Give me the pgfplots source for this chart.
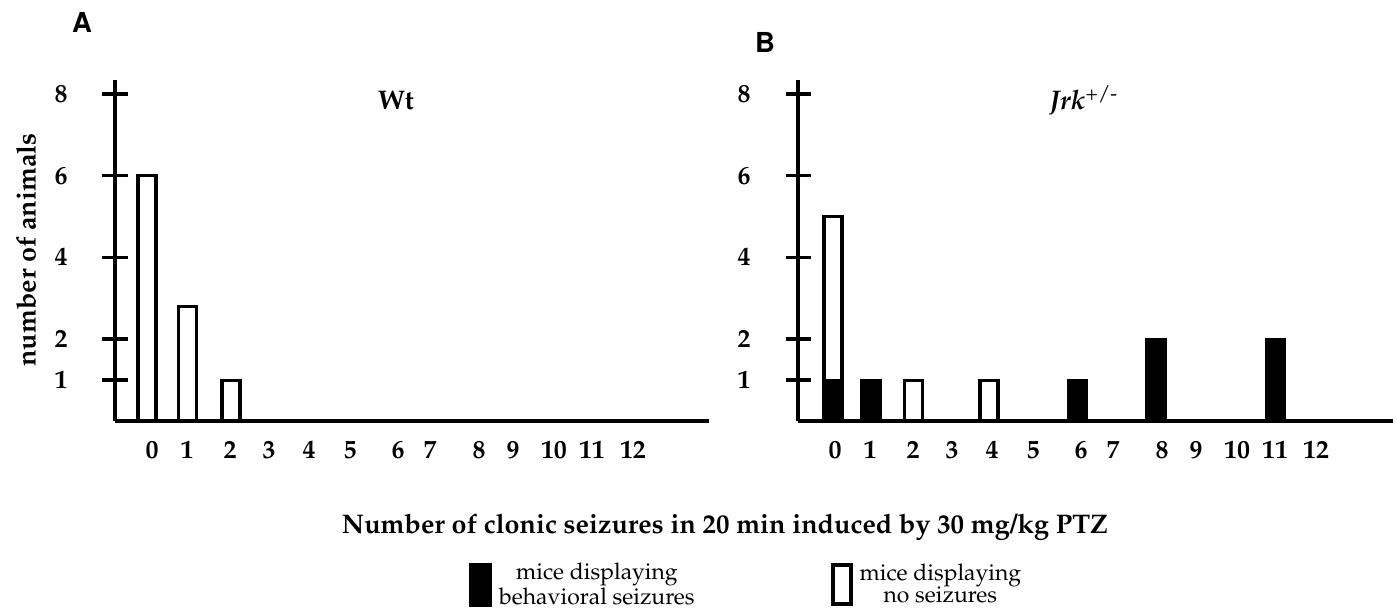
\documentclass[border=0pt]{standalone}
\usepackage[T1]{fontenc}
\usepackage{mathpazo}
\usepackage[scaled=0.92]{helvet}
\usepackage{pgfplots}
\pgfplotsset{compat=1.18}
\begin{document}
\begin{tikzpicture}
\useasboundingbox (0,0) rectangle (698.5bp,306bp);
\pgfplotsset{
  panel/.style={
    x=0.5bp, y=20.45bp,
    xmin=0, ymin=0, ymax=8.34,
    axis x line=bottom, axis y line=left,
    axis line style={line width=2bp, -},
    ytick={1,2,4,6,8},
    yticklabels={1,2,4,6,8},
    tick align=center,
    major tick length=12.5bp,
    ytick style={line width=1.75bp, black},
    xtick={37,72,115,154,194,235,283,315,364,398,439,477,518},
    xticklabels={0,1,2,3,4,5,6,7,8,9,10,11,12},
    xtick style={draw=none},
    tick label style={font=\fontsize{13}{15}\selectfont\bfseries},
    yticklabel style={anchor=east, xshift=-14bp},
    xticklabel style={anchor=north, yshift=6bp},
    ybar, bar width=18, bar shift=0,
    clip=false,
    anchor=south west,
  }
}
\begin{axis}[panel, at={(57.5bp,95.5bp)}, xmax=594,
  legend columns=2,
  legend style={at={(0.596,-0.4135)}, anchor=north west, draw=none, fill=none,
    inner sep=0pt, font=\fontsize{11.5}{11.5}\selectfont,
    nodes={align=center, anchor=west, inner sep=0pt},
    /tikz/every odd column/.append style={column sep=3.5bp},
    /tikz/every even column/.append style={column sep=68bp}},
]
\addplot[draw=black, fill=white, line width=1.6bp, forget plot] coordinates {(32,6) (72.5,2.8) (116,1)};
\addlegendimage{legend image code/.code={\fill[black] (0bp,-10.75bp) rectangle (11bp,10.75bp);}}
\addlegendentry{mice displaying\\behavioral seizures}
\addlegendimage{legend image code/.code={\draw[black, line width=2bp, fill=white] (1bp,-9.75bp) rectangle (10bp,9.75bp);}}
\addlegendentry{mice displaying\\no seizures}
\end{axis}
\begin{axis}[panel, at={(399bp,95.5bp)}, xmax=595]
\addplot[draw=black, fill=white, line width=1.6bp] coordinates {(35,5) (115.5,1) (191,1)};
\addplot[draw=black, fill=black, line width=1.6bp] coordinates {(35,1) (73,1) (279.5,1) (358,2) (477.5,2)};
\end{axis}
\node[rotate=90, font=\fontsize{13.5}{15}\selectfont\bfseries] at (13bp,181bp) {number of animals};
\node[anchor=base, font=\fontsize{13.5}{15}\selectfont\bfseries] at (362.5bp,39.5bp) {Number of clonic seizures in 20 min induced by 30 mg/kg PTZ};
\node[anchor=base, font=\fontsize{13.5}{15}\selectfont\bfseries] at (198bp,251bp) {Wt};
\node[anchor=base, font=\fontsize{13.5}{15}\selectfont\bfseries] at (542bp,251bp) {\textit{Jrk}\textsuperscript{\mdseries +/-}};
\node[anchor=base, font=\fontsize{15}{17}\selectfont\sffamily\bfseries] at (41bp,289.5bp) {A};
\node[anchor=base, font=\fontsize{15}{17}\selectfont\sffamily\bfseries] at (382.5bp,279.5bp) {B};
\end{tikzpicture}
\end{document}
